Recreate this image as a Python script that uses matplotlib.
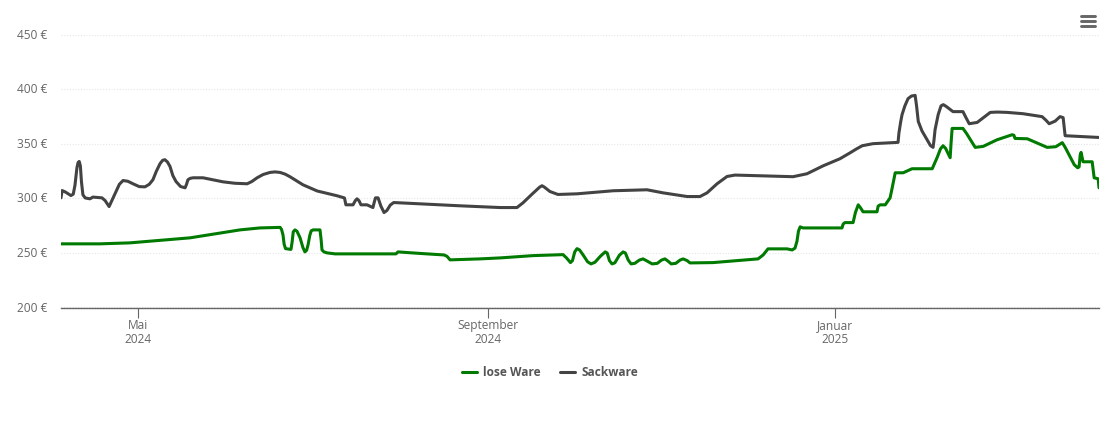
import datetime as dt
import matplotlib
matplotlib.use("Agg")
import matplotlib.pyplot as plt
import matplotlib.dates as mdates
from matplotlib.lines import Line2D
from matplotlib.transforms import ScaledTranslation

plt.rcParams['font.family'] = ['Open Sans', 'DejaVu Sans']

START = dt.date(2024, 4, 4)
# (days since START, price in EUR)
lose_ware = [(0, 258.4), (13.7, 258.4), (24.2, 259.3), (34.8, 261.6), (45.3, 263.9), (54.1, 267.5), (62.9, 271.2),
             (69.9, 273), (77, 273.5), (77.5, 271.5), (78, 266.6), (78.4, 258), (78.9, 254), (80.8, 253.3), (81.2, 260),
             (81.6, 269.4), (82.2, 271.2), (82.9, 270), (84, 263.9), (85, 255), (85.7, 251), (86.3, 252.5), (86.8, 257.4),
             (87.4, 266), (87.9, 270.3), (88.6, 271.2), (91, 271.2), (91.4, 262), (91.7, 252.8), (92.4, 251), (93.5, 250.1),
             (96.3, 249.2), (117.7, 249.2), (118.4, 251), (126.2, 249.6), (134.6, 248.2), (135.6, 247), (136.7, 243.7),
             (147.2, 244.6), (154.3, 245.5), (165.9, 247.6), (176.4, 248.5), (177.6, 245.5), (179, 241.2), (179.7, 243),
             (180.5, 251), (181.3, 254), (182.2, 252.8), (183.5, 248), (185, 242), (186.2, 240), (187.6, 241.5),
             (189.5, 247), (191.2, 251), (191.9, 250), (192.7, 243), (193.6, 240), (194.6, 241), (196.2, 248),
             (197.5, 251), (198.3, 250), (199.3, 243.5), (200.3, 240), (201.6, 240.5), (203.2, 243.5), (204.5, 244.6),
             (206, 242.5), (207.7, 240), (209.5, 240.5), (211, 243.5), (212.2, 244.6), (213.3, 242.5), (214.4, 240),
             (216, 240.5), (217.5, 243.5), (218.6, 244.6), (220, 243), (221, 240.9), (229.1, 241.2), (244.9, 244.6),
             (246.7, 248.2), (248.4, 253.8), (255.1, 253.8), (256.9, 252.8), (257.9, 254.5), (258.6, 261), (259.1, 270),
             (259.7, 274), (260.7, 273), (274.4, 273), (274.8, 276.5), (275.4, 277.9), (278.3, 277.9), (279.1, 287),
             (280.1, 294.2), (280.9, 291.5), (281.8, 287.8), (286.7, 287.8), (287.1, 293), (287.8, 294.2), (289.6, 294.2),
             (291.3, 300.6), (291.9, 308), (293.1, 323.6), (295.9, 323.6), (299, 327.3), (306.1, 327.3), (307.8, 337.4),
             (309, 345.5), (309.9, 348.4), (310.8, 346), (312.4, 337.4), (312.7, 350), (313.1, 364.3), (316.9, 364.3),
             (318.2, 359.5), (321.2, 346.9), (324, 347.8), (328.9, 353.9), (334.2, 358.5), (334.8, 358), (335.2, 355.1),
             (339.5, 354.8), (346.5, 346.9), (349.5, 347.5), (351.8, 351.2), (352.8, 347), (356, 331), (357.2, 328.2),
             (357.7, 329), (358.1, 340), (358.4, 342.3), (359.1, 333.7), (362.3, 333.7), (363, 319), (364.4, 318.1),
             (364.7, 309.8)]
sackware = [(0, 300.6), (0.4, 307.3), (1.5, 306), (3.5, 302.7), (4.3, 304), (4.9, 312), (5.6, 328.2), (6, 333), (6.4, 334),
            (6.8, 330), (7.2, 315), (7.7, 303.4), (8.5, 300.5), (10.2, 299.7), (11.2, 301.3), (14.4, 300.6), (15.5, 298.1),
            (16.9, 292.6), (18.3, 300.6), (20.5, 313), (21.8, 316.5), (23.5, 315.8), (25.3, 313.5), (27.5, 310.9), (29.5, 310.7),
            (31, 313), (32.3, 317.2), (33.5, 325), (34.8, 332), (35.7, 335), (36.5, 335.6), (37.4, 333.5), (38.3, 329.4),
            (39.3, 321), (40.4, 315.6), (42, 311), (43.6, 309.8), (44.1, 313), (44.6, 317.2), (45.4, 318.5), (46.4, 319),
            (49.9, 319), (56.9, 315.3), (61, 314), (65.4, 313.5), (67, 315.5), (68.9, 319), (71, 322), (73.4, 323.9), (75.2, 324.4),
            (77, 323.9), (78.8, 322.3), (80.5, 319.9), (85, 312.6), (90, 306.9), (97, 302.5), (99.6, 300.5), (100.1, 294.2),
            (102.6, 294.2), (103.4, 298), (104, 299.7), (104.7, 298), (105.4, 294.2), (107.5, 294.2), (109.6, 291.7), (110, 296),
            (110.5, 300.6), (111.4, 300.6), (112.4, 293), (113.5, 287.1), (114.5, 289), (115.7, 294), (116.9, 296.3), (126.2, 295.1),
            (140.2, 293.3), (154.3, 291.7), (160.2, 291.7), (162.3, 296), (165.5, 304), (168.2, 310.5), (169, 311.7), (169.8, 310.5),
            (171.8, 306.4), (174.6, 303.7), (181.3, 304.3), (194, 307.1), (205.9, 308), (211.5, 305.2), (220, 301.8), (224.5, 301.8),
            (227, 305.2), (230.5, 313.5), (234, 320.2), (236.8, 321.5), (257.2, 320), (262.1, 322.7), (267.8, 330), (273.7, 336.5),
            (277.3, 342), (279.5, 345.5), (281.5, 348.4), (285.3, 350.3), (294.1, 351.5), (294.4, 360), (295, 370), (295.5, 376.9),
            (296.5, 385), (297.6, 391.6), (298.8, 394), (300.1, 394.6), (300.6, 385), (301.2, 370.7), (302.5, 362), (304.3, 353.9),
            (305.5, 348.5), (306.4, 346.9), (306.7, 353), (307.1, 363.1), (308.2, 377), (309.2, 385), (310, 386.1), (311, 384.5),
            (313.4, 379.7), (316.9, 379.7), (318, 374), (319.1, 368.6), (321.9, 369.8), (326.5, 379), (329, 379.3), (332.4, 379),
            (338, 377.8), (344.7, 375.1), (346, 372), (347.2, 368.6), (349.3, 371), (351, 375.1), (352.1, 374.2), (352.8, 357.6),
            (364.7, 356)]
y_ticks = [200, 250, 300, 350, 400, 450]
x_tick_dates = [dt.date(2024, 5, 1), dt.date(2024, 9, 1), dt.date(2025, 1, 1)]
x_tick_labels = ['Mai\n2024', 'September\n2024', 'Januar\n2025']

W, H = 1110, 422
fig = plt.figure(figsize=(W / 100, H / 100), dpi=100, facecolor='white')
ax = fig.add_axes([61 / W, (H - 307.5) / H, 1038 / W, 272.5 / H])

base = mdates.date2num(START)
ax.plot([base + d for d, _ in lose_ware], [v for _, v in lose_ware], color='#007a00', lw=2.2, solid_joinstyle='round',
        solid_capstyle='round', label='lose Ware', zorder=3)
ax.plot([base + d for d, _ in sackware], [v for _, v in sackware], color='#434343', lw=2.2, solid_joinstyle='round',
        solid_capstyle='round', label='Sackware', zorder=3)

ax.set_xlim(base, base + 364.7)
ax.set_ylim(200, 450)
for s in ['top', 'left', 'right']:
    ax.spines[s].set_visible(False)
ax.spines['bottom'].set_color('#666666')
ax.spines['bottom'].set_linewidth(1.0)
ax.set_yticks(y_ticks)
ax.set_yticklabels([f'{v} €' for v in y_ticks])
ax.set_xticks([mdates.date2num(d) for d in x_tick_dates])
ax.set_xticklabels(x_tick_labels, linespacing=1.1)
ax.tick_params(axis='y', length=0, pad=10, labelsize=8.6, labelcolor='#666666')
ax.tick_params(axis='x', length=7.5, width=0.8, color='#666666', pad=0.5, labelsize=8.6, labelcolor='#666666')
up = ScaledTranslation(0, 1 / 100, fig.dpi_scale_trans)
for lab in ax.get_yticklabels():
    lab.set_transform(lab.get_transform() + up)
ax.grid(axis='y', color='#e6e6e6', lw=0.8, ls=(0, (1, 1.5)))
ax.set_axisbelow(True)

fig.legend(*ax.get_legend_handles_labels(), loc='center', bbox_to_anchor=(550 / W, 1 - 373 / H), ncol=2, frameon=False,
           prop={'size': 8.6, 'weight': 'bold'}, labelcolor='#555555', handlelength=1.25, handletextpad=0.55,
           columnspacing=1.6, borderpad=0)

# menu icon
for yy in (16, 21, 26):
    fig.add_artist(Line2D([1081 / W, 1095 / W], [1 - yy / H, 1 - yy / H], color='#666666', lw=2.1,
                          solid_capstyle='round', transform=fig.transFigure))

fig.savefig('out.png', dpi=100)
